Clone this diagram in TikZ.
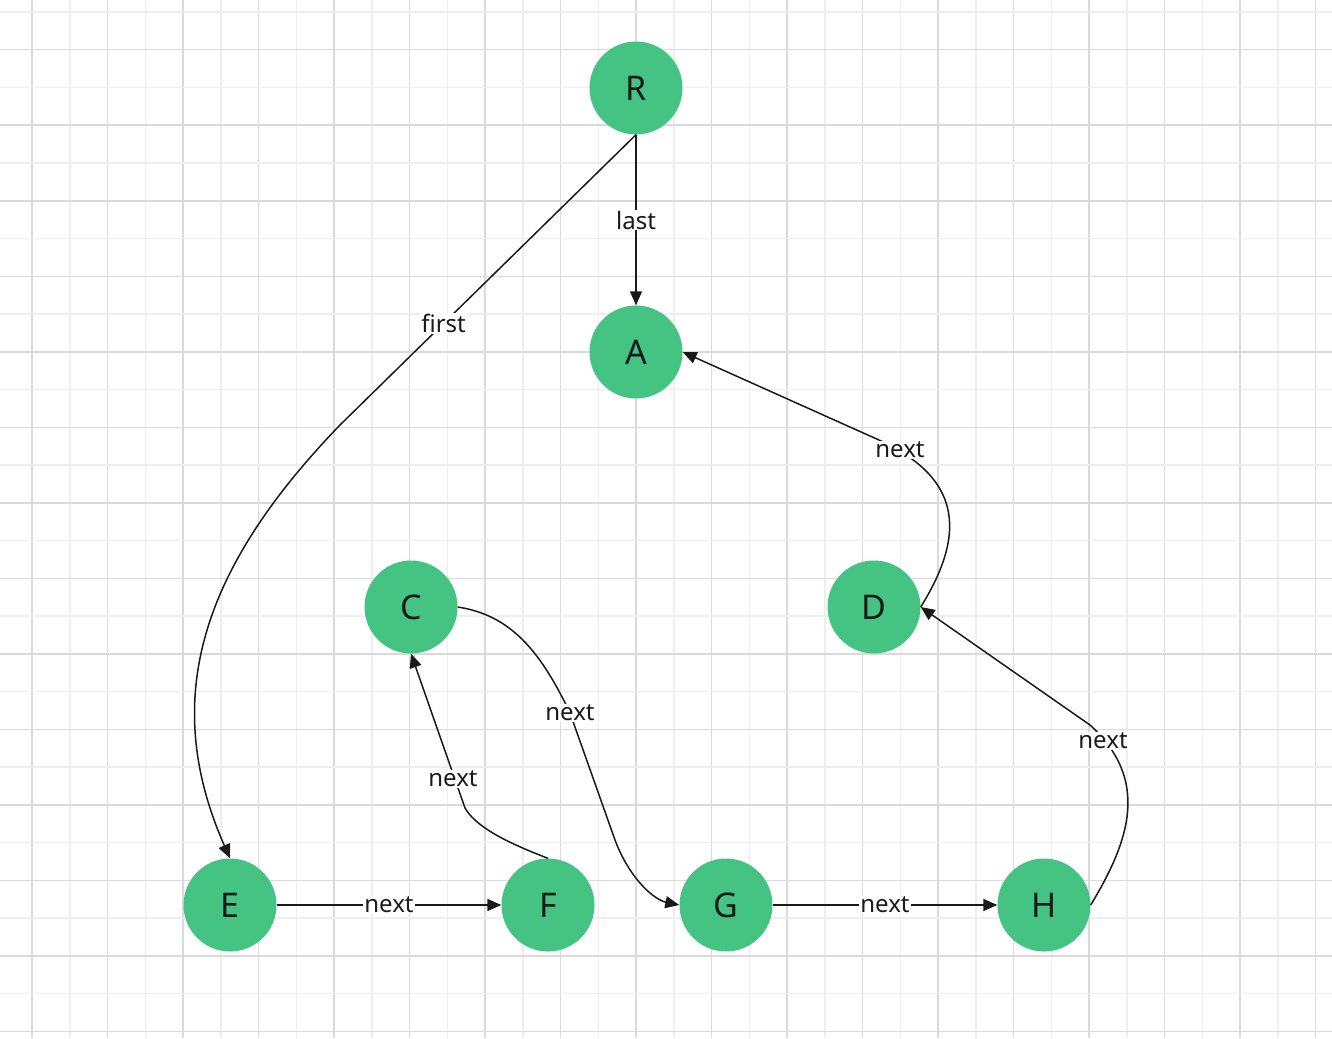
\documentclass[tikz,border=0pt]{standalone}
\usepackage{fontspec}
\setmainfont{Noto Sans}
\usetikzlibrary{arrows.meta}
\definecolor{nodegreen}{HTML}{44C383}
\definecolor{gmaj}{HTML}{DADADA}
\definecolor{gmin}{HTML}{EEEEEE}
\definecolor{ink}{HTML}{1A1A1A}
\begin{document}
\begin{tikzpicture}[x=1pt,y=-1pt,
  vtx/.style={circle,fill=nodegreen,minimum size=93pt,inner sep=0pt,text=ink,font=\fontsize{34}{36}\selectfont},
  edge/.style={draw=ink,line width=1.5pt,-{Triangle[length=14pt,width=12pt]}},
  lbl/.style={fill=white,inner sep=1pt,text=ink,font=\fontsize{24}{26}\selectfont}]
\useasboundingbox (0,0) rectangle (1332,1038);
\foreach \k in {0,...,34}{
  \pgfmathtruncatemacro{\m}{mod(\k,2)}
  \ifnum\m=0 \draw[gmaj,line width=1.5pt] ({32+37.75*\k},0) -- ({32+37.75*\k},1038);
  \else \draw[gmin,line width=1.5pt] ({32+37.75*\k},0) -- ({32+37.75*\k},1038); \fi}
\foreach \k in {0,...,27}{
  \pgfmathtruncatemacro{\m}{mod(\k,2)}
  \ifnum\m=1 \draw[gmaj,line width=1.5pt] (0,{12+37.75*\k}) -- (1332,{12+37.75*\k});
  \else \draw[gmin,line width=1.5pt] (0,{12+37.75*\k}) -- (1332,{12+37.75*\k}); \fi}
\node[vtx] (R) at (636,88) {R};
\node[vtx] (A) at (636,352) {A};
\node[vtx] (C) at (411,607) {C};
\node[vtx] (D) at (874,607) {D};
\node[vtx] (E) at (230,905) {E};
\node[vtx] (F) at (548,905) {F};
\node[vtx] (G) at (726,905) {G};
\node[vtx] (H) at (1044,905) {H};
\coordinate (r1) at (340,425);
\coordinate (d1) at (870,436);
\coordinate (h1) at (1090,725);
\coordinate (f1) at (465,808);
\coordinate (c1) at (570,713);
\draw[edge] (R) -- node[lbl]{last} (A);
\draw[edge] (R.south) -- node[lbl,pos=0.65]{first} (r1) .. controls (200,570) and (160,700) .. (E.north);
\draw[edge] (D.east) .. controls (975,520) and (950,470) .. (d1) -- (A.east);
\node[lbl] at (900,450) {next};
\draw[edge] (H.east) .. controls (1130,840) and (1150,780) .. (h1) -- (D.east);
\node[lbl] at (1103,741) {next};
\draw[edge] (F.north) .. controls (500,840) and (475,825) .. (f1) -- (C.south);
\node[lbl] at (453,779) {next};
\draw[edge] (C.east) .. controls (510,615) and (540,650) .. (c1) -- (615,840) .. controls (630,880) and (655,900) .. (G.west);
\node[lbl] at (570,713) {next};
\draw[edge] (E) -- node[lbl]{next} (F);
\draw[edge] (G) -- node[lbl]{next} (H);
\end{tikzpicture}
\end{document}
